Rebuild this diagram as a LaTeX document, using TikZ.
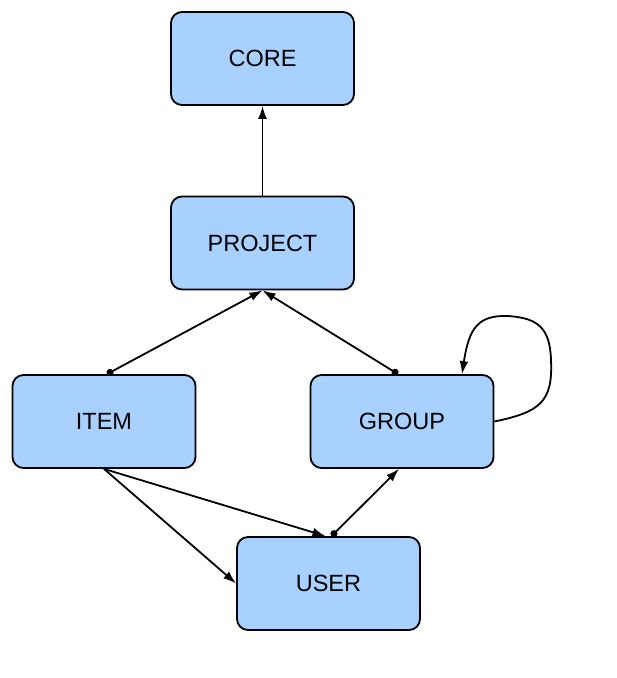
\documentclass[tikz,border=0pt]{standalone}
\usepackage{fontspec}
\setmainfont{Liberation Sans}
\usetikzlibrary{arrows.meta}
\definecolor{boxblue}{RGB}{168,209,255}

\begin{document}
\begin{tikzpicture}[x=1pt,y=-1pt,line width=1.8pt,
  modbox/.style={draw=black,fill=boxblue,rounded corners=11pt,minimum width=183pt,minimum height=93pt,inner sep=0pt,font=\fontsize{23.5}{27}\selectfont},
  link/.style={-{Latex[length=13pt,width=9pt]}},
  duallink/.style={{Circle[length=7pt]}-{Latex[length=13pt,width=9pt]}}]
\useasboundingbox (0,0) rectangle (617,678);
\node [modbox] (core) at (262.5,58.5) {CORE};
\node [modbox] (project) at (262.5,243) {PROJECT};
\node [modbox] (item) at (104,421.5) {ITEM};
\node [modbox] (group) at (402,421.5) {GROUP};
\node [modbox] (user) at (328.5,583.5) {USER};
\draw [link] (project.north) -- (core.south);
\draw [duallink] ([xshift=3pt]item.north) -- (project.south);
\draw [duallink] ([xshift=-4pt]group.north) -- (project.south);
\draw [link] (item.south) -- (user.west);
\draw [link] (item.south) -- ([xshift=-3pt]user.north);
\draw [duallink] ([xshift=3pt]user.north) -- ([xshift=-3pt]group.south);
% loop on group
\draw [link] (group.east) .. controls (540,412) and (553,402) .. (551,360)
  .. controls (550,328) and (538,318) .. (508,316)
  .. controls (478,315) and (469,328) .. ([xshift=60pt]group.north);
\end{tikzpicture}
\end{document}
